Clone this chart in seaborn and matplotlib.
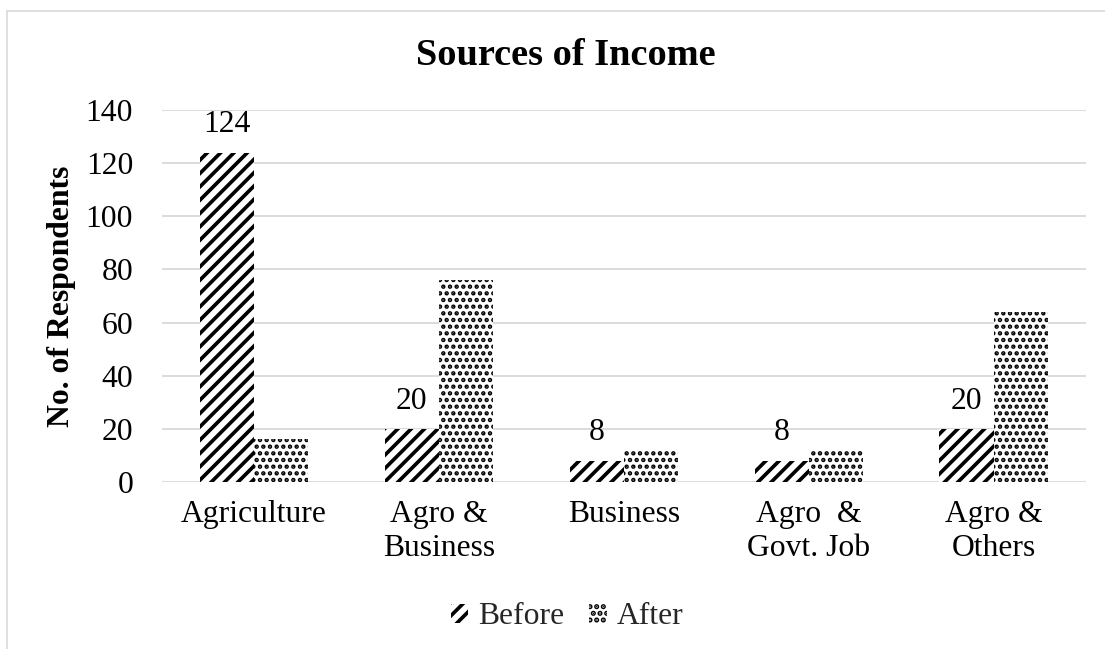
import matplotlib
matplotlib.use("Agg")
import matplotlib.pyplot as plt
from matplotlib.patches import Patch
from matplotlib.lines import Line2D
import seaborn as sns
import pandas as pd

categories = ["Agriculture", "Agro &\nBusiness", "Business", "Agro  &\nGovt. Job", "Agro &\nOthers"]
before = [124, 20, 8, 8, 20]
after = [16, 76, 12, 12, 64]
series = ["Before", "After"]
yticks = [0, 20, 40, 60, 80, 100, 120, 140]

sns.set_theme(style="white")
plt.rcParams["font.family"] = ["Liberation Serif", "DejaVu Serif"]
plt.rcParams["hatch.linewidth"] = 2.2

df = pd.DataFrame({
    "Category": categories * 2,
    "Series": [series[0]] * len(categories) + [series[1]] * len(categories),
    "Value": before + after,
})

DPI = 120
fig = plt.figure(figsize=(1105 / DPI, 649 / DPI), dpi=DPI)
ax = fig.add_axes([161.5 / 1105, 1 - 482 / 649, 924.5 / 1105, 372 / 649])

sns.barplot(data=df, x="Category", y="Value", hue="Series", order=categories,
            hue_order=series, width=0.585, ax=ax, legend=False, errorbar=None)

hatches = ["///", "..."]
hatch_lw = [2.2, 1.8]


def style_patch(p, h, lw):
    p.set_facecolor("white")
    p.set_edgecolor("black")
    p.set_linewidth(0)
    p.set_hatch(h)
    if hasattr(p, "set_hatch_linewidth"):
        p.set_hatch_linewidth(lw)


for cont, h, lw in zip(ax.containers, hatches, hatch_lw):
    for p in cont.patches:
        style_patch(p, h, lw)

ax.bar_label(ax.containers[0], labels=[str(v) for v in before], padding=8,
             fontsize=19, color="black")

ax.set_ylim(0, 140)
ax.set_yticks(yticks)
ax.set_xlim(-0.5, len(categories) - 0.5)
ax.grid(axis="y", color="#d9d9d9", linewidth=1.1)
ax.set_axisbelow(True)
for s in ax.spines.values():
    s.set_visible(False)
ax.tick_params(axis="both", length=0, labelsize=19, colors="black")
ax.tick_params(axis="y", pad=17)
ax.tick_params(axis="x", pad=11)
ax.set_xlabel("")
ax.set_ylabel("No. of Respondents", fontsize=19, fontweight="bold", color="black")
ax.yaxis.set_label_coords((76 - 161.5) / 924.5, 0.5)

fig.text(566 / 1105, 1 - 65 / 649, "Sources of Income", ha="center", va="baseline",
         fontsize=23, fontweight="bold", color="black")

handles = []
for h, lw in zip(hatches, hatch_lw):
    hp = Patch()
    style_patch(hp, h, lw)
    handles.append(hp)
fig.legend(handles, series, loc="center", bbox_to_anchor=(567 / 1105, 1 - 617 / 649),
           ncol=2, frameon=False, fontsize=19, handlelength=0.55, handleheight=0.55,
           handletextpad=0.3, columnspacing=0.8)

fig.add_artist(Line2D([7 / 1105, 1.01], [1 - 11 / 649, 1 - 11 / 649], transform=fig.transFigure,
                      color="#d9d9d9", linewidth=1.0))
fig.add_artist(Line2D([7 / 1105, 7 / 1105], [-0.01, 1 - 11 / 649], transform=fig.transFigure,
                      color="#d9d9d9", linewidth=1.0))

fig.savefig("out.png", dpi=DPI)
